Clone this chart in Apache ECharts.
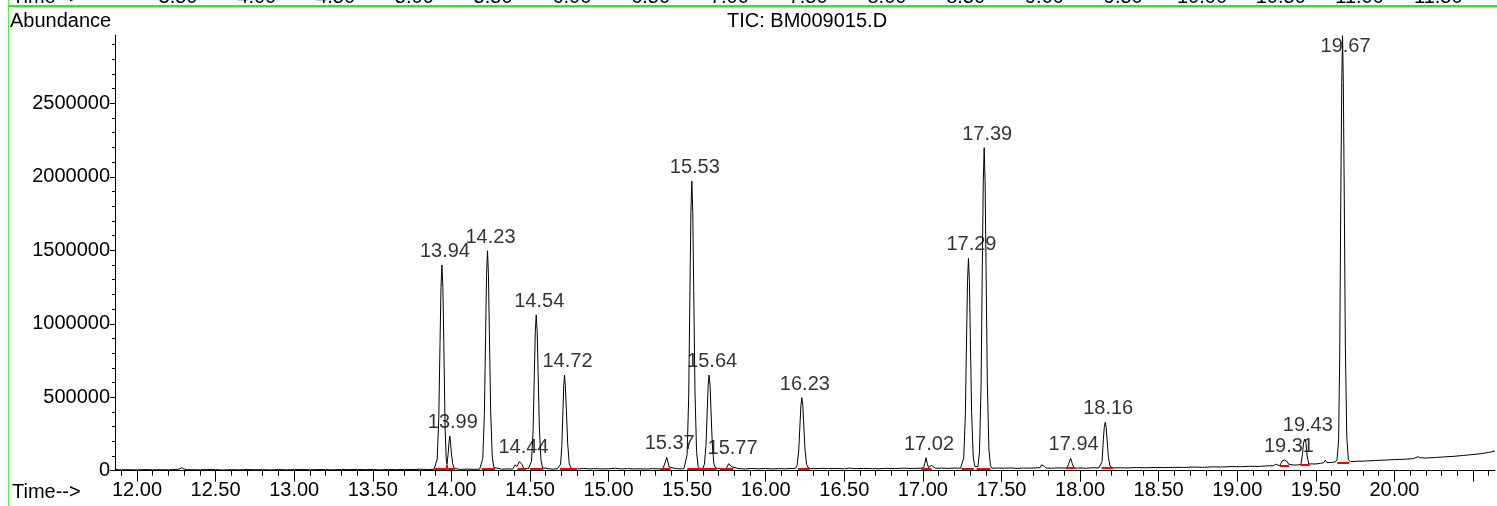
<!DOCTYPE html>
<html>
<head>
<meta charset="utf-8">
<script src="https://cdn.jsdelivr.net/npm/echarts@6/dist/echarts.min.js"></script>
<style>
html,body{margin:0;padding:0;background:#fff;}
#c{width:1497px;height:506px;}
</style>
</head>
<body>
<div id="c"></div>
<script>
// ---------- data ----------
const xLabelValues = [12.0, 12.5, 13.0, 13.5, 14.0, 14.5, 15.0, 15.5, 16.0, 16.5, 17.0, 17.5, 18.0, 18.5, 19.0, 19.5, 20.0];
const xMajorTicks = [12.0, 12.5, 13.0, 13.5, 14.0, 14.5, 15.0, 15.5, 16.0, 16.5, 17.0, 17.5, 18.0, 18.5, 19.0, 19.5, 20.0, 20.5];
const yLabelValues = [0, 500000, 1000000, 1500000, 2000000, 2500000];
const topLabelValues = [3.5, 4.0, 4.5, 5.0, 5.5, 6.0, 6.5, 7.0, 7.5, 8.0, 8.5, 9.0, 9.5, 10.0, 10.5, 11.0, 11.5];

const peakLabels = ['13.94','13.99','14.23','14.44','14.54','14.72','15.37','15.53','15.64','15.77','16.23','17.02','17.29','17.39','17.94','18.16','19.31','19.43','19.67'];
const peakTimes  = [13.94, 13.99, 14.23, 14.44, 14.54, 14.72, 15.37, 15.53, 15.64, 15.77, 16.23, 17.02, 17.29, 17.39, 17.94, 18.16, 19.31, 19.43, 19.67];
const peakHeights = [1400000, 236000, 1497000, 68000, 1060000, 651000, 91000, 1971000, 651000, 58000, 497000, 88000, 1445000, 2198000, 84000, 329000, 73000, 215000, 2960000];

// integration baselines: [start, end, level]
const integrationMarks = [
  [13.891, 13.97, 10000], [13.97, 14.023, 10000], [14.193, 14.277, 10000], [14.42, 14.475, 12000],
  [14.50, 14.585, 12000], [14.691, 14.797, 12000], [15.327, 15.395, 12000], [15.50, 15.582, 12000],
  [15.582, 15.688, 12000], [15.709, 15.793, 13000], [16.205, 16.28, 14000], [16.99, 17.055, 16000],
  [17.246, 17.324, 16000], [17.341, 17.43, 16000], [17.91, 17.967, 17000], [18.137, 18.21, 18000],
  [19.271, 19.33, 33000], [19.402, 19.462, 40000], [19.636, 19.713, 55000]
];
const integrationDrops = [[13.97, 10000, 42000]];

// TIC trace [time, abundance]
const trace = [
  [11.86, 8000], [11.90, 6000], [11.95, 7000], [12.00, 5000], [12.05, 8000], [12.10, 6000], [12.15, 7000], [12.20, 6000],
  [12.25, 8000], [12.27, 12000], [12.285, 20000], [12.30, 11000], [12.32, 7000], [12.40, 6000], [12.45, 8000], [12.50, 7000],
  [12.55, 5000], [12.60, 7000], [12.65, 6000], [12.70, 8000], [12.75, 6000], [12.80, 7000], [12.85, 5000], [12.90, 8000],
  [12.95, 6000], [13.00, 7000], [13.05, 9000], [13.10, 6000], [13.15, 8000], [13.20, 7000], [13.25, 6000], [13.30, 8000],
  [13.35, 7000], [13.40, 9000], [13.45, 7000], [13.50, 8000], [13.55, 6000], [13.60, 8000], [13.65, 7000], [13.70, 9000],
  [13.75, 8000], [13.80, 10000], [13.85, 8000], [13.89, 10000],
  [13.90, 12000], [13.91, 80000], [13.92, 358000], [13.928, 872000], [13.934, 1247000], [13.94, 1400000], [13.946, 1247000],
  [13.952, 872000], [13.96, 300000], [13.967, 80000], [13.972, 45000], [13.98, 120000], [13.985, 190000], [13.99, 236000],
  [13.995, 190000], [14.00, 120000], [14.008, 50000], [14.018, 15000], [14.03, 10000],
  [14.06, 9000], [14.10, 11000], [14.15, 9000], [14.18, 10000],
  [14.19, 17000], [14.20, 84000], [14.21, 382000], [14.218, 932000], [14.224, 1333000], [14.23, 1497000], [14.236, 1333000],
  [14.242, 932000], [14.25, 411000], [14.26, 99000], [14.27, 22000], [14.28, 11000],
  [14.32, 10000], [14.36, 12000], [14.39, 11000],
  [14.398, 16000], [14.405, 40000], [14.412, 38000], [14.418, 28000], [14.425, 45000], [14.432, 62000], [14.44, 68000],
  [14.45, 42000], [14.46, 16000], [14.47, 12000], [14.49, 13000],
  [14.50, 17000], [14.51, 64000], [14.52, 274000], [14.528, 662000], [14.534, 945000], [14.54, 1060000], [14.546, 945000],
  [14.552, 662000], [14.56, 295000], [14.57, 75000], [14.58, 20000], [14.59, 12000],
  [14.62, 13000], [14.65, 11000], [14.675, 13000],
  [14.685, 15000], [14.695, 44000], [14.703, 172000], [14.71, 408000], [14.715, 581000], [14.72, 651000], [14.725, 581000],
  [14.732, 408000], [14.74, 185000], [14.75, 50000], [14.76, 20000], [14.775, 13000],
  [14.80, 12000], [14.84, 15000], [14.88, 12000], [14.92, 14000], [14.96, 12000], [15.00, 13000], [15.04, 16000], [15.08, 12000],
  [15.12, 14000], [15.16, 12000], [15.20, 13000], [15.24, 11000], [15.28, 14000], [15.32, 12000], [15.345, 13000],
  [15.355, 25000], [15.362, 60000], [15.37, 91000], [15.378, 60000], [15.386, 25000], [15.395, 13000],
  [15.43, 14000], [15.46, 12000], [15.48, 14000],
  [15.49, 22000], [15.50, 110000], [15.51, 502000], [15.518, 1227000], [15.524, 1755000], [15.53, 1971000], [15.536, 1755000],
  [15.542, 1227000], [15.55, 541000], [15.56, 130000], [15.57, 28000], [15.58, 14000],
  [15.60, 15000], [15.61, 44000], [15.62, 172000], [15.628, 408000], [15.634, 581000], [15.64, 651000], [15.646, 581000],
  [15.652, 408000], [15.66, 185000], [15.67, 50000], [15.68, 18000], [15.69, 13000],
  [15.72, 14000], [15.75, 15000],
  [15.757, 28000], [15.764, 48000], [15.77, 58000], [15.776, 48000], [15.784, 26000], [15.795, 15000],
  [15.83, 14000], [15.87, 12000], [15.91, 15000], [15.95, 13000], [16.00, 15000], [16.04, 12000], [16.08, 14000], [16.12, 13000],
  [16.16, 15000], [16.19, 16000],
  [16.20, 38000], [16.21, 135000], [16.218, 313000], [16.224, 444000], [16.23, 497000], [16.236, 444000], [16.242, 313000],
  [16.25, 144000], [16.26, 42000], [16.27, 20000], [16.285, 15000],
  [16.32, 14000], [16.36, 16000], [16.40, 14000], [16.45, 15000], [16.50, 13000], [16.53, 18000], [16.56, 14000], [16.62, 15000],
  [16.68, 14000], [16.72, 13000], [16.76, 16000], [16.82, 15000], [16.88, 17000], [16.94, 15000], [16.99, 17000],
  [17.005, 22000], [17.012, 50000], [17.02, 88000], [17.028, 48000], [17.036, 22000], [17.045, 19000], [17.055, 36000],
  [17.065, 24000], [17.08, 16000],
  [17.12, 18000], [17.16, 16000], [17.20, 18000], [17.24, 17000],
  [17.25, 23000], [17.26, 87000], [17.27, 373000], [17.278, 902000], [17.284, 1288000], [17.29, 1445000], [17.296, 1288000],
  [17.302, 902000], [17.31, 402000], [17.32, 100000], [17.33, 30000], [17.34, 22000],
  [17.35, 27000], [17.36, 125000], [17.37, 561000], [17.378, 1369000], [17.384, 1958000], [17.39, 2198000], [17.396, 1958000],
  [17.402, 1369000], [17.41, 605000], [17.42, 147000], [17.43, 33000], [17.44, 17000],
  [17.48, 18000], [17.52, 17000], [17.56, 19000], [17.60, 16000], [17.64, 18000], [17.68, 17000], [17.72, 19000],
  [17.745, 20000], [17.755, 40000], [17.762, 45000], [17.772, 30000], [17.785, 18000],
  [17.82, 17000], [17.86, 19000], [17.905, 18000],
  [17.92, 25000], [17.93, 55000], [17.94, 84000], [17.95, 50000], [17.96, 22000], [17.975, 17000],
  [18.00, 19000], [18.04, 17000], [18.08, 20000], [18.12, 19000],
  [18.13, 22000], [18.14, 60000], [18.148, 210000], [18.154, 295000], [18.16, 329000], [18.166, 295000], [18.172, 210000],
  [18.18, 95000], [18.19, 32000], [18.205, 19000],
  [18.24, 20000], [18.30, 19000], [18.36, 21000], [18.42, 20000], [18.48, 22000], [18.54, 21000], [18.60, 23000], [18.66, 22000],
  [18.72, 25000], [18.78, 23000], [18.84, 26000], [18.90, 25000], [18.96, 28000], [19.02, 27000], [19.08, 30000], [19.14, 29000],
  [19.19, 33000], [19.23, 34000], [19.245, 44000], [19.255, 36000], [19.27, 34000],
  [19.278, 50000], [19.286, 66000], [19.30, 73000], [19.31, 70000], [19.318, 62000], [19.326, 45000], [19.335, 36000],
  [19.36, 38000], [19.39, 40000], [19.405, 42000],
  [19.415, 110000], [19.422, 190000], [19.43, 215000], [19.438, 185000], [19.445, 100000], [19.455, 46000], [19.465, 42000],
  [19.50, 46000], [19.53, 50000], [19.55, 55000], [19.56, 72000], [19.57, 55000], [19.60, 56000], [19.625, 60000],
  [19.635, 75000], [19.645, 210000], [19.652, 781000], [19.659, 1856000], [19.665, 2640000], [19.67, 2960000], [19.675, 2640000],
  [19.681, 1856000], [19.688, 840000], [19.697, 230000], [19.707, 75000], [19.72, 62000],
  [19.76, 64000], [19.82, 66000], [19.88, 70000], [19.94, 72000], [20.00, 76000], [20.06, 78000], [20.12, 82000], [20.15, 95000],
  [20.165, 88000], [20.20, 86000], [20.26, 90000], [20.32, 94000], [20.38, 98000], [20.44, 104000], [20.50, 110000],
  [20.55, 116000], [20.60, 124000], [20.64, 134000]
];

// ---------- chart ----------
const FONT = '"Liberation Sans", Arial, sans-serif';
const xMinorTicks = [];
for (let k = 119; k <= 206; k++) xMinorTicks.push(k / 10);
const yMinorTicks = [];
for (let k = 0; k <= 29; k++) yMinorTicks.push(k * 100000);

const redSegments = integrationMarks.map(m => ({ coords: [[m[0], m[2]], [m[1], m[2]]] }))
  .concat(integrationDrops.map(d => ({ coords: [[d[0], d[1]], [d[0], d[2]]] })));

const labelData = peakTimes.map((t, i) => {
  const item = { value: [t, peakHeights[i]], name: peakLabels[i] };
  if (peakLabels[i] === '19.67') item.label = { position: 'bottom', distance: 0 };
  return item;
});

const chart = echarts.init(document.getElementById('c'), null, { renderer: 'canvas' });
chart.setOption({
  animation: false,
  backgroundColor: '#ffffff',
  grid: [
    { left: 115, top: 35, width: 1380, height: 435.7, outerBoundsMode: 'none', containLabel: false },
    { left: 115, top: -40, width: 1380, height: 25, outerBoundsMode: 'none', containLabel: false }
  ],
  xAxis: [
    {
      type: 'value', gridIndex: 0, position: 'bottom', min: 11.86, max: 20.64,
      axisLine: { show: true, lineStyle: { color: '#000', width: 1 } },
      axisTick: { show: true, customValues: xMajorTicks, length: 11, lineStyle: { color: '#000' } },
      axisLabel: { show: true, customValues: xLabelValues, formatter: v => v.toFixed(2), color: '#000', fontSize: 20, fontFamily: FONT, margin: 10 },
      splitLine: { show: false }
    },
    {
      type: 'value', gridIndex: 0, position: 'bottom', min: 11.86, max: 20.64,
      axisLine: { show: false },
      axisTick: { show: true, customValues: xMinorTicks, length: 5, lineStyle: { color: '#000' } },
      axisLabel: { show: false },
      splitLine: { show: false }
    },
    {
      type: 'value', gridIndex: 1, position: 'bottom', min: 3.1, max: 11.86,
      axisLine: { show: false },
      axisTick: { show: false },
      axisLabel: { show: true, customValues: topLabelValues, formatter: v => v.toFixed(2), color: '#000', fontSize: 20, fontFamily: FONT, margin: 2 },
      splitLine: { show: false }
    }
  ],
  yAxis: [
    {
      type: 'value', gridIndex: 0, position: 'left', min: 0, max: 2965000,
      axisLine: { show: true, lineStyle: { color: '#000', width: 1 } },
      axisTick: { show: true, customValues: yLabelValues, length: 5, lineStyle: { color: '#000' } },
      axisLabel: { show: true, customValues: yLabelValues, formatter: v => String(v), color: '#000', fontSize: 20, fontFamily: FONT, margin: 5 },
      splitLine: { show: false }
    },
    {
      type: 'value', gridIndex: 0, position: 'left', min: 0, max: 2965000,
      axisLine: { show: false },
      axisTick: { show: true, customValues: yMinorTicks, length: 3, lineStyle: { color: '#000' } },
      axisLabel: { show: false },
      splitLine: { show: false }
    },
    { type: 'value', gridIndex: 1, min: 0, max: 1, show: false }
  ],
  series: [
    {
      type: 'line', xAxisIndex: 0, yAxisIndex: 0, data: trace, showSymbol: false, symbol: 'none',
      lineStyle: { color: '#000', width: 1 }, z: 2, silent: true
    },
    {
      type: 'lines', coordinateSystem: 'cartesian2d', xAxisIndex: 0, yAxisIndex: 0, data: redSegments,
      lineStyle: { color: '#ff0000', width: 2, opacity: 1 }, z: 3, silent: true
    },
    {
      type: 'scatter', xAxisIndex: 0, yAxisIndex: 0, data: labelData, symbolSize: 1,
      itemStyle: { color: 'rgba(0,0,0,0)' }, z: 4, silent: true,
      label: { show: true, position: 'top', distance: 3, offset: [3, 0], formatter: p => p.name, color: '#000', fontSize: 20, fontFamily: FONT }
    }
  ],
  graphic: [
    { type: 'line', shape: { x1: 8, y1: 6, x2: 1497, y2: 6 }, style: { stroke: '#22ee22', lineWidth: 2 }, silent: true },
    { type: 'line', shape: { x1: 8.5, y1: 0, x2: 8.5, y2: 506 }, style: { stroke: '#55ee55', lineWidth: 1 }, silent: true },
    { type: 'text', x: 12, y: -3, style: { text: 'Time-->', fill: '#000', font: '20px ' + FONT, verticalAlign: 'middle', align: 'left' }, silent: true },
    { type: 'text', x: 10, y: 21, style: { text: 'Abundance', fill: '#000', font: '20px ' + FONT, verticalAlign: 'middle', align: 'left' }, silent: true },
    { type: 'text', x: 727, y: 21, style: { text: 'TIC: BM009015.D', fill: '#000', font: '20px ' + FONT, verticalAlign: 'middle', align: 'left' }, silent: true },
    { type: 'text', x: 12, y: 492, style: { text: 'Time-->', fill: '#000', font: '20px ' + FONT, verticalAlign: 'middle', align: 'left' }, silent: true }
  ]
});
</script>
</body>
</html>
